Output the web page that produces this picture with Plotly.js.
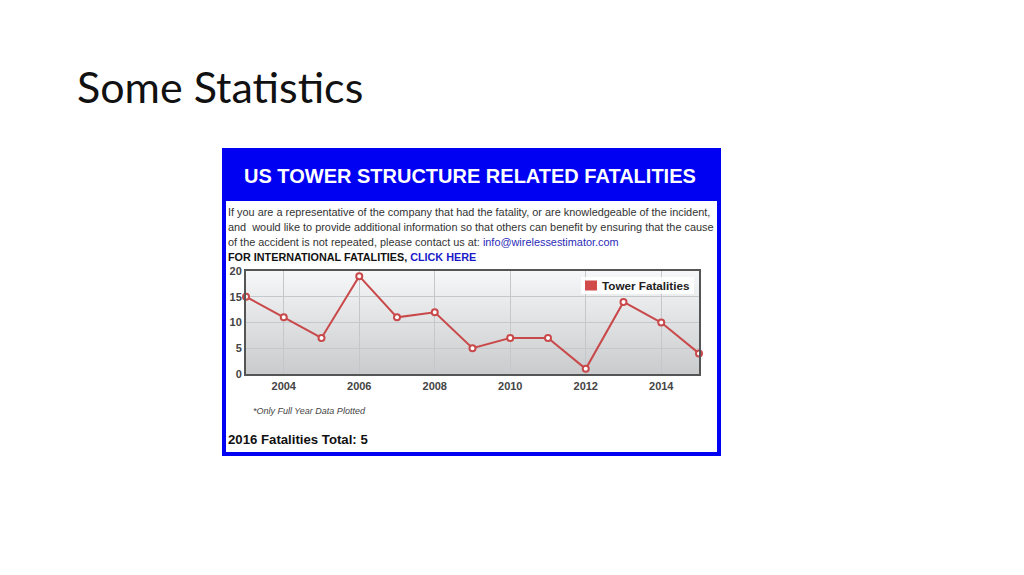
<!DOCTYPE html>
<html>
<head>
<meta charset="utf-8">
<script src="https://cdn.plot.ly/plotly-3.0.1.min.js"></script>
<style>
  html, body { margin: 0; padding: 0; background: #fff; }
  #chart { width: 1024px; height: 575px; }
</style>
</head>
<body>
<div id="chart"></div>
<script>
// data
const years = [2003, 2004, 2005, 2006, 2007, 2008, 2009, 2010, 2011, 2012, 2013, 2014, 2015];
const fatalities = [15, 11, 7, 19, 11, 12, 5, 7, 7, 1, 14, 10, 4];
const xTicks = [2004, 2006, 2008, 2010, 2012, 2014];
const yTicks = [0, 5, 10, 15, 20];
const seriesName = 'Tower Fatalities';

const W = 1024;
const H = 575;
// pixel -> paper helpers (margins are zero, so paper == page)
const px = (x) => x / W;
const py = (y) => 1 - y / H;

const BLUE = '#0000f2';
const RED = '#c9494a';
const ARIAL = 'Liberation Sans, Arial, sans-serif';

const gradient = 'data:image/svg+xml;utf8,' + encodeURIComponent(
  '<svg xmlns="http://www.w3.org/2000/svg" width="10" height="100" preserveAspectRatio="none">'
  + '<defs><linearGradient id="g" x1="0" y1="0" x2="0" y2="1">'
  + '<stop offset="0" stop-color="#f5f7f9"/><stop offset="1" stop-color="#c9cbcd"/>'
  + '</linearGradient></defs><rect width="10" height="100" fill="url(#g)"/></svg>'
);

const textLine = (y, text, opts = {}) => Object.assign({
  xref: 'paper', yref: 'paper', x: px(226), y: py(y),
  xanchor: 'left', yanchor: 'middle', showarrow: false, text,
  font: { family: ARIAL, size: 10.9, color: '#333' },
}, opts);

const traces = [{
  x: years,
  y: fatalities,
  type: 'scatter',
  mode: 'lines+markers',
  name: seriesName,
  cliponaxis: false,
  line: { color: RED, width: 2 },
  marker: { size: 6, color: '#fff', line: { color: RED, width: 2 } },
}];

const axisStyle = {
  ticks: '',
  showgrid: true,
  gridcolor: '#c4c8cc',
  zeroline: false,
  showline: true,
  mirror: true,
  linecolor: '#555',
  linewidth: 2,
  tickfont: { family: ARIAL, size: 11, color: '#444', weight: 'bold' },
  fixedrange: true,
};

const layout = {
  width: W,
  height: H,
  margin: { l: 0, r: 0, t: 0, b: 0 },
  paper_bgcolor: '#fff',
  plot_bgcolor: 'rgba(0,0,0,0)',
  showlegend: false,
  xaxis: Object.assign({
    domain: [px(246), px(699)],
    range: [2003, 2015],
    tickvals: xTicks,
    ticklabelstandoff: 1,
  }, axisStyle),
  yaxis: Object.assign({
    domain: [py(374), py(271)],
    range: [0, 20],
    tickvals: yTicks,
  }, axisStyle),
  images: [{
    source: gradient,
    xref: 'x domain', yref: 'y domain',
    x: 0, y: 1, sizex: 1, sizey: 1,
    sizing: 'stretch', layer: 'below',
  }],
  shapes: [
    { type: 'rect', xref: 'paper', yref: 'paper', layer: 'below',
      x0: px(224), x1: px(719), y0: py(150), y1: py(454),
      line: { color: BLUE, width: 4 }, fillcolor: 'rgba(0,0,0,0)' },
    { type: 'rect', xref: 'paper', yref: 'paper', layer: 'below',
      x0: px(222), x1: px(721), y0: py(148), y1: py(201),
      line: { width: 0 }, fillcolor: BLUE },
    // legend box and swatch
    { type: 'rect', xref: 'paper', yref: 'paper', layer: 'above',
      x0: px(581), x1: px(694), y0: py(277), y1: py(294),
      line: { width: 0 }, fillcolor: 'rgba(255,255,255,0.85)' },
    { type: 'rect', xref: 'paper', yref: 'paper', layer: 'above',
      x0: px(585), x1: px(597), y0: py(280.5), y1: py(290.5),
      line: { width: 0 }, fillcolor: '#d24b4b' },
  ],
  annotations: [
    { xref: 'paper', yref: 'paper', x: px(75), y: py(87), xanchor: 'left', yanchor: 'middle',
      showarrow: false, text: 'Some Statistics',
      font: { family: 'Lato, Open Sans, sans-serif', size: 43, color: '#111' } },
    { xref: 'paper', yref: 'paper', x: px(470), y: py(176), xanchor: 'center', yanchor: 'middle',
      showarrow: false, text: 'US TOWER STRUCTURE RELATED FATALITIES',
      font: { family: ARIAL, size: 20, color: '#fff', weight: 'bold' } },
    textLine(212, 'If you are a representative of the company that had the fatality, or are knowledgeable of the incident,'),
    textLine(227, 'and  would like to provide additional information so that others can benefit by ensuring that the cause'),
    textLine(242, 'of the accident is not repeated, please contact us at: <span style="color:#2b2bb8">info@wirelessestimator.com</span>'),
    textLine(257, '<b>FOR INTERNATIONAL FATALITIES, <span style="color:#1a1ac8">CLICK HERE</span></b>',
      { font: { family: ARIAL, size: 10.8, color: '#111' } }),
    { xref: 'paper', yref: 'paper', x: px(600), y: py(285.5), xanchor: 'left', yanchor: 'middle',
      showarrow: false, text: '<b>' + seriesName + '</b>',
      font: { family: ARIAL, size: 11.7, color: '#222' } },
    textLine(411, '<i>*Only Full Year Data Plotted</i>',
      { x: px(251), font: { family: ARIAL, size: 9, color: '#444' } }),
    textLine(439, '<b>2016 Fatalities Total: 5</b>',
      { font: { family: ARIAL, size: 13.2, color: '#111' } }),
  ],
};

Plotly.newPlot('chart', traces, layout, { displayModeBar: false, staticPlot: true });
</script>
</body>
</html>
